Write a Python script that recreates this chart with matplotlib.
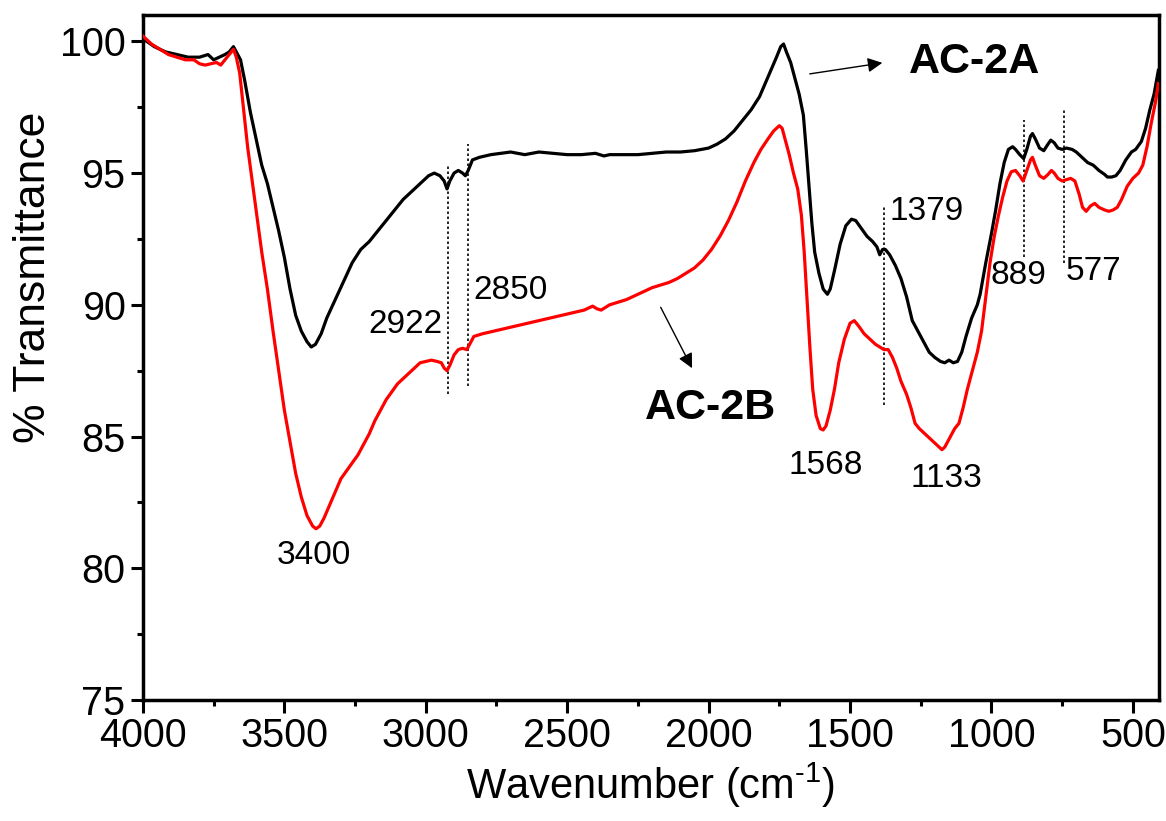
import matplotlib
matplotlib.use('Agg')
import matplotlib.pyplot as plt
from matplotlib.ticker import MultipleLocator

plt.rcParams['font.family'] = ['Liberation Sans', 'DejaVu Sans']
plt.rcParams['mathtext.fontset'] = 'custom'
plt.rcParams['mathtext.rm'] = 'Liberation Sans'
plt.rcParams['mathtext.default'] = 'regular'

# AC-2A spectrum (black)
wn_a = [4000, 3960, 3920, 3880, 3840, 3800, 3770, 3750, 3730, 3710, 3695, 3680, 3670,
        3655, 3640, 3620, 3600, 3580, 3560, 3540, 3520, 3500, 3480, 3460, 3440, 3420,
        3405, 3390, 3370, 3350, 3320, 3290, 3260, 3230, 3200, 3170, 3140, 3110, 3080,
        3050, 3020, 2990, 2970, 2950, 2935, 2925, 2915, 2900, 2885, 2870, 2860, 2850,
        2835, 2810, 2770, 2700, 2650, 2600, 2550, 2500, 2450, 2400, 2370, 2350, 2300,
        2250, 2200, 2150, 2100, 2050, 2000, 1970, 1940, 1910, 1880, 1850, 1820, 1800,
        1780, 1760, 1745, 1735, 1725, 1710, 1695, 1680, 1665, 1655, 1645, 1635, 1625,
        1610, 1595, 1580, 1570, 1555, 1535, 1515, 1495, 1480, 1460, 1440, 1420, 1405,
        1395, 1385, 1375, 1360, 1340, 1320, 1300, 1280, 1260, 1240, 1220, 1200, 1180,
        1165, 1150, 1135, 1120, 1105, 1090, 1070, 1050, 1040, 1020, 1000, 985, 970,
        955, 940, 925, 915, 900, 886, 875, 862, 855, 845, 830, 815, 800, 790, 778,
        765, 750, 735, 715, 700, 680, 660, 640, 620, 600, 590, 575, 560, 545, 525,
        505, 490, 470, 455, 440, 425, 410]
t_a = [100.1, 99.8, 99.6, 99.5, 99.4, 99.4, 99.5, 99.3, 99.4, 99.5, 99.6, 99.8, 99.6,
       99.3, 98.5, 97.3, 96.3, 95.3, 94.6, 93.7, 92.8, 91.8, 90.6, 89.6, 89.0, 88.6,
       88.4, 88.5, 88.9, 89.5, 90.2, 90.9, 91.6, 92.1, 92.4, 92.8, 93.2, 93.6, 94.0,
       94.3, 94.6, 94.9, 95.0, 94.9, 94.7, 94.4, 94.7, 95.0, 95.1, 95.0, 94.9, 95.1,
       95.5, 95.6, 95.7, 95.8, 95.7, 95.8, 95.75, 95.7, 95.7, 95.75, 95.65, 95.7, 95.7,
       95.7, 95.75, 95.8, 95.8, 95.85, 95.95, 96.1, 96.3, 96.6, 97.0, 97.4, 97.9, 98.4,
       98.9, 99.4, 99.8, 99.9, 99.6, 99.2, 98.6, 98.0, 97.2, 95.9, 94.5, 93.1, 92.0,
       91.2, 90.6, 90.4, 90.6, 91.3, 92.3, 93.0, 93.25, 93.2, 92.9, 92.6, 92.4, 92.2,
       91.9, 92.1, 92.1, 91.9, 91.5, 91.0, 90.3, 89.4, 89.0, 88.6, 88.2, 88.0, 87.85,
       87.8, 87.9, 87.8, 87.85, 88.2, 88.8, 89.5, 90.0, 90.4, 91.6, 92.7, 93.6, 94.6,
       95.4, 95.9, 96.0, 95.9, 95.7, 95.55, 95.9, 96.4, 96.5, 96.3, 95.95, 95.85, 96.1,
       96.25, 96.15, 95.95, 95.9, 95.95, 95.9, 95.8, 95.6, 95.4, 95.3, 95.1, 94.95,
       94.85, 94.85, 94.9, 95.1, 95.5, 95.8, 95.9, 96.2, 96.7, 97.4, 98.0, 98.9]

# AC-2B spectrum (red)
wn_b = [4000, 3970, 3940, 3910, 3880, 3850, 3820, 3800, 3780, 3760, 3740, 3725, 3710,
        3695, 3680, 3670, 3658, 3645, 3630, 3615, 3600, 3580, 3560, 3540, 3520, 3500,
        3480, 3460, 3440, 3420, 3400, 3388, 3375, 3360, 3340, 3320, 3300, 3280, 3260,
        3240, 3220, 3200, 3180, 3160, 3140, 3120, 3100, 3080, 3060, 3040, 3020, 3000,
        2980, 2960, 2945, 2935, 2925, 2915, 2900, 2885, 2870, 2855, 2845, 2830, 2800,
        2760, 2720, 2680, 2640, 2600, 2560, 2520, 2480, 2440, 2410, 2395, 2380, 2350,
        2320, 2290, 2260, 2230, 2200, 2170, 2140, 2110, 2080, 2050, 2020, 1990, 1960,
        1930, 1900, 1870, 1840, 1815, 1790, 1770, 1750, 1740, 1730, 1715, 1700, 1685,
        1672, 1662, 1652, 1642, 1632, 1620, 1605, 1595, 1585, 1570, 1555, 1540, 1520,
        1500, 1485, 1470, 1450, 1430, 1410, 1395, 1380, 1365, 1350, 1335, 1320, 1300,
        1285, 1270, 1255, 1235, 1215, 1195, 1175, 1165, 1150, 1130, 1115, 1100, 1085,
        1070, 1050, 1035, 1020, 1005, 990, 975, 960, 945, 930, 915, 900, 888, 875, 862,
        855, 845, 830, 815, 800, 788, 778, 765, 750, 735, 720, 705, 690, 678, 665, 650,
        635, 620, 600, 585, 570, 555, 540, 520, 500, 480, 465, 450, 435, 420, 410]
t_b = [100.2, 99.9, 99.7, 99.5, 99.4, 99.3, 99.3, 99.15, 99.1, 99.15, 99.2, 99.1, 99.3,
       99.5, 99.7, 99.4, 98.8, 97.5, 96.0, 94.8, 93.6, 92.0, 90.6, 89.0, 87.5, 86.0,
       84.8, 83.6, 82.7, 82.0, 81.6, 81.5, 81.6, 81.9, 82.4, 82.9, 83.4, 83.7, 84.0,
       84.3, 84.7, 85.1, 85.6, 86.0, 86.4, 86.7, 87.0, 87.2, 87.4, 87.6, 87.8, 87.85,
       87.9, 87.85, 87.8, 87.6, 87.5, 87.7, 88.1, 88.3, 88.35, 88.3, 88.5, 88.8, 88.9,
       89.0, 89.1, 89.2, 89.3, 89.4, 89.5, 89.6, 89.7, 89.8, 89.95, 89.85, 89.8, 90.0,
       90.1, 90.2, 90.35, 90.5, 90.65, 90.75, 90.85, 91.0, 91.2, 91.4, 91.7, 92.1, 92.6,
       93.2, 93.9, 94.7, 95.4, 95.9, 96.3, 96.6, 96.8, 96.7, 96.3, 95.7, 95.0, 94.4,
       93.4, 92.0, 90.2, 88.4, 86.8, 85.8, 85.3, 85.25, 85.4, 86.0, 86.8, 87.8, 88.7,
       89.3, 89.4, 89.2, 88.9, 88.7, 88.5, 88.4, 88.3, 88.3, 88.0, 87.6, 87.1, 86.6,
       86.1, 85.5, 85.3, 85.1, 84.9, 84.7, 84.5, 84.6, 84.9, 85.3, 85.5, 86.1, 86.8,
       87.4, 88.2, 89.0, 90.3, 91.6, 92.6, 93.4, 94.1, 94.7, 95.05, 95.1, 94.9, 94.7,
       95.1, 95.5, 95.6, 95.3, 94.9, 94.8, 94.95, 95.1, 95.0, 94.8, 94.7, 94.75, 94.8,
       94.7, 94.2, 93.7, 93.55, 93.75, 93.85, 93.7, 93.6, 93.55, 93.6, 93.7, 94.0, 94.5,
       94.8, 95.0, 95.3, 96.0, 96.9, 97.7, 98.4]

# peak markers: label, line x, line y-range, label position
peak_labels = ['2922', '2850', '1379', '889', '577']
peak_x = [2922, 2850, 1379, 886, 742]
peak_ylo = [86.6, 86.9, 86.2, 91.8, 91.6]
peak_yhi = [95.3, 96.1, 93.7, 97.0, 97.4]
label_pos = [(3071, 89.25), (2700, 90.55), (1228, 93.55), (906, 91.1), (638, 91.25)]

min_labels = ['3400', '1568', '1133']
min_pos = [(3396, 80.5), (1585, 83.9), (1161, 83.4)]

fig = plt.figure(figsize=(11.66, 8.21), dpi=100)
ax = fig.add_axes([0.1226, 0.1474, 0.8713, 0.8343])

ax.plot(wn_a, t_a, color='black', lw=2.3, zorder=3)
ax.plot(wn_b, t_b, color='#ff0000', lw=2.3, zorder=3)

for x, lo, hi in zip(peak_x, peak_ylo, peak_yhi):
    ax.plot([x, x], [lo, hi], color='black', lw=1.2, ls=(0, (1.5, 1.5)), zorder=2)
for lab, (x, y) in zip(peak_labels, label_pos):
    ax.text(x, y, lab, fontsize=24, ha='center', va='center')
for lab, (x, y) in zip(min_labels, min_pos):
    ax.text(x, y, lab, fontsize=24, ha='center', va='center')

# sample names with arrows
ax.text(1059, 99.2, 'AC-2A', fontsize=31, fontweight='bold', ha='center', va='center')
ax.text(1994, 86.1, 'AC-2B', fontsize=31, fontweight='bold', ha='center', va='center')
ax.annotate('', xy=(1376, 99.2), xytext=(1652, 98.75),
            arrowprops=dict(arrowstyle='-|>', color='black', lw=1.0, mutation_scale=22))
ax.annotate('', xy=(2054, 87.5), xytext=(2174, 90.0),
            arrowprops=dict(arrowstyle='-|>', color='black', lw=1.0, mutation_scale=22))

ax.set_xlim(4000, 408)
ax.set_ylim(75, 101)
ax.xaxis.set_major_locator(MultipleLocator(500))
ax.xaxis.set_minor_locator(MultipleLocator(250))
ax.yaxis.set_major_locator(MultipleLocator(5))
ax.yaxis.set_minor_locator(MultipleLocator(2.5))
ax.tick_params(which='major', direction='out', length=9, width=2.2, labelsize=28.5)
ax.tick_params(which='minor', direction='out', length=4.5, width=2.2)
ax.tick_params(top=False, right=False)
for s in ax.spines.values():
    s.set_linewidth(2.5)

ax.set_xlabel('Wavenumber (cm$^{\u2010 1}$)', fontsize=30)
ax.set_ylabel('% Transmittance', fontsize=32)
ax.yaxis.label.set_y(0.617)

fig.savefig('out.png', dpi=100)
